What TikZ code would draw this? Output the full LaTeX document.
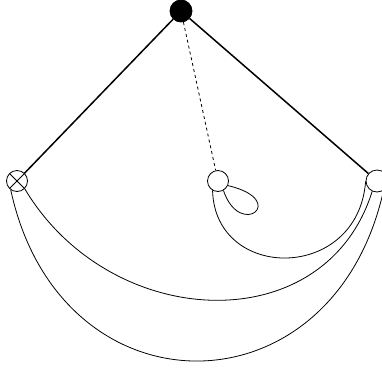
\documentclass[tikz,border=0pt]{standalone}
\begin{document}
\begin{tikzpicture}[x=1pt,y=-1pt,line width=0.8pt,
  vtx/.style={circle,draw,fill=white,minimum size=21pt,inner sep=0pt},
  crossvtx/.style={vtx,path picture={\draw (path picture bounding box.north west) -- (path picture bounding box.south east) (path picture bounding box.north east) -- (path picture bounding box.south west);}},
  rootvtx/.style={circle,draw,fill=black,minimum size=22pt,inner sep=0pt}]
\useasboundingbox (0,0) rectangle (382,370);
\node[rootvtx] (root) at (181,11) {};
\node[crossvtx] (left) at (17,181) {};
\node[vtx] (mid) at (218,181) {};
\node[vtx,minimum size=22pt] (right) at (377,181) {};
\draw[line width=1.5pt] (root) -- (left);
\draw[line width=1.5pt] (root) -- (right);
\draw[dashed] (root) -- (mid);
\draw (left.-45) .. controls (110,332) and (325,342) .. (right.-115);
\draw (left.-125) .. controls (60,418) and (333,418) .. (right.-55);
\draw (mid.-120) .. controls (215,282) and (358,282) .. (right.-178);
\draw (mid.-60) .. controls (240,240) and (290,200) .. (mid.-25);
\end{tikzpicture}
\end{document}
